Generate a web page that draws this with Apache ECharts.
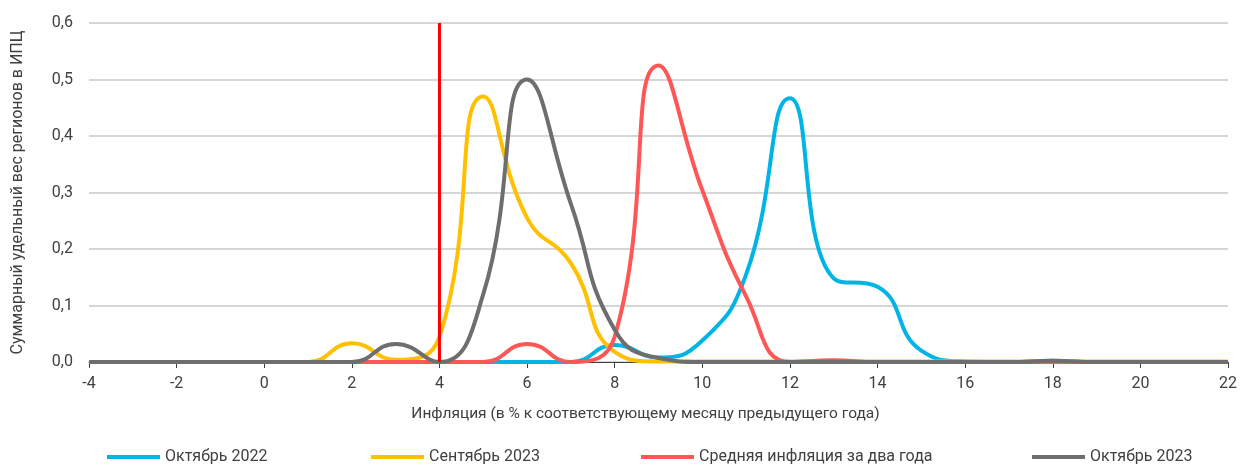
<!DOCTYPE html>
<html>
<head>
<meta charset="utf-8">
<script src="https://cdn.jsdelivr.net/npm/echarts@6/dist/echarts.min.js"></script>
<style>
html,body{margin:0;padding:0;background:#fff;}
#chart{width:1240px;height:466px;}
</style>
</head>
<body>
<div id="chart"></div>
<script>
// x values (inflation, %)
var xValues = [-4,-3,-2,-1,0,1,2,3,4,5,6,7,8,9,10,11,12,13,14,15,16,17,18,19,20,21,22];
// series values (summary weight of regions in CPI)
var oct2022 = [0,0,0,0,0,0,0,0,0,0,0,0,0.03,0.008,0.038,0.155,0.467,0.148,0.133,0.02,0.001,0,0.002,0,0,0,0];
var sep2023 = [0,0,0,0,0,0,0.033,0.004,0.045,0.47,0.255,0.175,0.018,0.001,0.001,0.001,0.001,0.001,0.001,0.001,0.001,0.001,0.001,0.001,0.001,0.001,0.001];
var avg2y   = [0,0,0,0,0,0,0,0,0,0,0.032,0,0.045,0.525,0.304,0.116,0,0.003,0,0,0,0,0,0,0,0,0];
var oct2023 = [0,0,0,0,0,0,0,0.032,0,0.12,0.5,0.28,0.057,0.007,0,0,0,0,0,0,0,0,0.002,0,0,0,0];
var seriesNames = ['Октябрь 2022','Сентябрь 2023','Средняя инфляция за два года','Октябрь 2023'];
var targetX = 4;           // inflation target line
var targetYs = [0, 0.6];
var xAxisName = 'Инфляция (в % к соответствующему месяцу предыдущего года)';
var yAxisName = 'Суммарный удельный вес регионов в ИПЦ';

function pairs(arr){ return xValues.map(function(x,i){ return [x, arr[i]]; }); }

var colors = ['#00B4E6','#FFC000','#FF5757','#6E6E6E'];
var font = 'Roboto';
var textColor = '#404040';

var chart = echarts.init(document.getElementById('chart'), null, {renderer:'canvas'});

function mkLine(name, data, color){
  return {
    name: name, type: 'line', data: pairs(data), smooth: 0.5,
    symbol: 'none', lineStyle: {color: color, width: 4}, itemStyle:{color: color},
    emphasis: {disabled: true}, animation: false
  };
}

var legendLefts = [107, 371, 641, 1032];
var legends = seriesNames.map(function(n, i){
  return {
    data: [n], left: legendLefts[i], top: 449, padding: 0, icon: 'rect',
    itemWidth: 53, itemHeight: 4,
    textStyle: {fontFamily: font, fontSize: 16, color: textColor},
    selectedMode: false
  };
});

var option = {
  animation: false,
  color: colors,
  grid: {left: 89, right: 11, top: 23, bottom: 104, containLabel: false},
  legend: legends,
  xAxis: {
    type: 'value', min: -4, max: 22, interval: 2,
    name: xAxisName, nameLocation: 'middle', nameGap: 44,
    nameTextStyle: {fontFamily: font, fontSize: 15.5, color: textColor, padding: [0, 26, 0, 0]},
    axisLine: {onZero: false, lineStyle: {color: '#404040', width: 1}},
    axisTick: {show: true, length: 6, inside: false, lineStyle: {color: '#404040'}},
    axisLabel: {fontFamily: font, fontSize: 16, color: textColor, margin: 14},
    splitLine: {show: false}
  },
  yAxis: {
    type: 'value', min: 0, max: 0.6, interval: 0.1,
    name: yAxisName, nameLocation: 'middle', nameGap: 63,
    nameTextStyle: {fontFamily: font, fontSize: 16, color: textColor},
    axisLine: {show: false}, axisTick: {show: false},
    axisLabel: {fontFamily: font, fontSize: 16, color: textColor, margin: 16,
      formatter: function(v){ return v.toFixed(1).replace('.', ','); }},
    splitLine: {show: true, lineStyle: {color: '#c8c8c8', width: 1.5}}
  },
  series: [
    mkLine(seriesNames[0], oct2022, colors[0]),
    mkLine(seriesNames[1], sep2023, colors[1]),
    mkLine(seriesNames[2], avg2y, colors[2]),
    mkLine(seriesNames[3], oct2023, colors[3]),
    {
      name: 'target', type: 'line', symbol: 'none', silent: true,
      data: targetYs.map(function(y){ return [targetX, y]; }),
      lineStyle: {color: '#FF0000', width: 3}, z: 3
    }
  ]
};
chart.setOption(option);
</script>
</body>
</html>
